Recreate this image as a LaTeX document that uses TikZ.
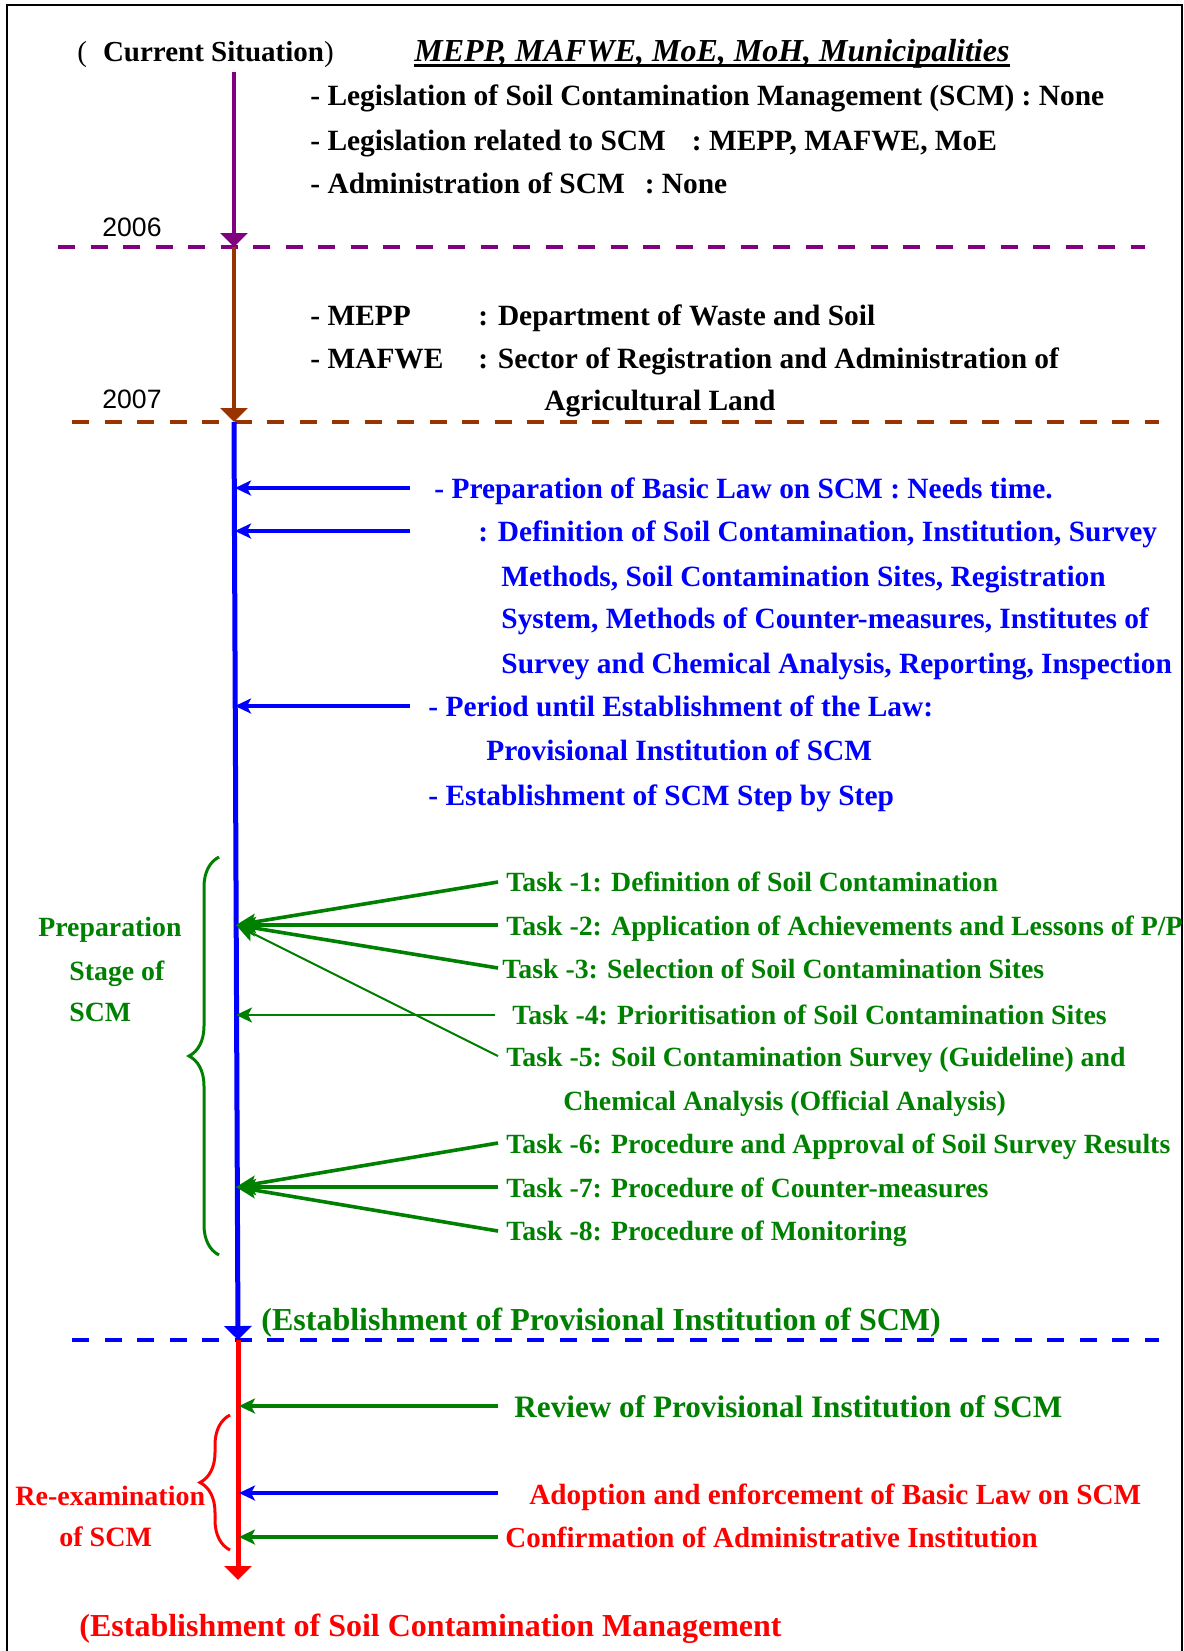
\documentclass[tikz,border=0pt]{standalone}
\usepackage{fontspec}
\setmainfont{Liberation Serif}
\newfontfamily\yearfont{Liberation Sans}
\usepackage{xcolor}
\usetikzlibrary{arrows}
\usetikzlibrary{arrows.meta}
\usetikzlibrary{decorations.pathreplacing}

\definecolor{scmpurple}{RGB}{128,0,128}
\definecolor{scmbrown}{RGB}{153,51,0}
\definecolor{scmgreen}{RGB}{0,128,0}
\definecolor{scmblue}{RGB}{0,0,255}
\definecolor{scmred}{RGB}{255,0,0}

\begin{document}
\begin{tikzpicture}[x=0.5pt,y=-0.5pt]
	\useasboundingbox (0,0) rectangle (1184,1651);
	\draw[line width=1pt] (7,1651) -- (7,5) -- (1182,5) -- (1182,1651);
	
	\tikzstyle{period}=[line width=2.4pt, dash pattern=on 8.5pt off 7.75pt]
	\tikzstyle{spine}=[line width=1.8pt, -{Triangle[width=13.5pt,length=7pt]}]
	\tikzstyle{pointer}=[line width=1.8pt, -{Stealth[length=10pt,width=8pt,inset=2pt]}]
	\tikzstyle{thinpointer}=[line width=1.7pt, -{Stealth[length=8pt,width=7.5pt,inset=2pt]}]
	
	\draw[period, scmpurple] (58,247) -- (1145,247);
	\draw[period, scmbrown] (72,422) -- (1159,422);
	\draw[period, scmblue] (72,1340) -- (1159,1340);
	
	\coordinate (s0) at (234,72);
	\coordinate (s1) at (234,247);
	\coordinate (s2) at (234,422);
	\coordinate (s3) at (238,1340);
	\coordinate (s4) at (238,1580);
	\draw[spine, scmpurple] (s0) to (s1);
	\draw[spine, scmbrown] (s1) to (s2);
	\draw[spine, scmblue, line width=2.5pt] (s2) to (s3);
	\draw[spine, scmred, line width=2.5pt] (s3) to (s4);
	
	\coordinate (h1) at (235,488);
	\coordinate (h2) at (235,531);
	\coordinate (h3) at (235,706);
	\coordinate (hub1) at (236,925);
	\coordinate (hub4) at (236,1015);
	\coordinate (hub2) at (236,1187);
	\coordinate (r1) at (239,1406);
	\coordinate (r2) at (239,1493);
	\coordinate (r3) at (239,1537);
	
	\coordinate (bt1) at (410,488);
	\coordinate (bt2) at (410,531);
	\coordinate (bt3) at (410,706);
	\coordinate (tt1) at (498,882);
	\coordinate (tt2) at (498,925);
	\coordinate (tt3) at (498,968);
	\coordinate (tt4) at (495,1015);
	\coordinate (tt5) at (498,1056);
	\coordinate (tt6) at (498,1143);
	\coordinate (tt7) at (498,1187);
	\coordinate (tt8) at (498,1231);
	\coordinate (rt1) at (498,1406);
	\coordinate (rt2) at (498,1493);
	\coordinate (rt3) at (498,1537);
	
	\draw[scmgreen, line width=1.5pt, decorate, decoration={brace, amplitude=15pt}] (219,1255) -- (219,857);
	\draw[scmred, line width=1.5pt, decorate, decoration={brace, amplitude=15pt}] (230,1550) -- (230,1415);
	
	\tikzstyle{every node}=[anchor=west, inner sep=0pt, text height=0.95em, text depth=0.08em, font=\fontsize{14.7}{17}\selectfont\bfseries]
	\tikzstyle{year}=[font=\fontsize{13.3}{16}\selectfont\yearfont]
	\tikzstyle{bluetext}=[text=scmblue]
	\tikzstyle{task}=[text=scmgreen, font=\fontsize{13.9}{17}\selectfont\bfseries]
	\tikzstyle{big}=[font=\fontsize{16}{19}\selectfont\bfseries]
	
	\node[font=\fontsize{14.5}{17}\selectfont\bfseries] (cur) at (77,53) {{\mdseries(}\hspace{8pt}Current Situation{\mdseries)}};
	\node[font=\fontsize{16}{19}\selectfont\bfseries\itshape] (org) at (414,53) {MEPP, MAFWE, MoE, MoH, Municipalities};
	\draw[line width=1.3pt] ([yshift=-2pt]org.base west) to ([yshift=-2pt]org.base east);
	\node (l1) at (310,97) {- Legislation of Soil Contamination Management (SCM) : None};
	\node (l2) at (310,142) {- Legislation related to SCM\hspace{13pt}: MEPP, MAFWE, MoE};
	\node (l3) at (310,185) {- Administration of SCM\hspace{10pt}: None};
	\node[year] (y06) at (102,228) {2006};
	
	\node (m1) at (310,317) {\makebox[84pt][l]{- MEPP}: Department of Waste and Soil};
	\node (m2) at (310,360) {\makebox[84pt][l]{- MAFWE}: Sector of Registration and Administration of};
	\node (m3) at (544,402) {Agricultural Land};
	\node[year] (y07) at (102,400) {2007};
	
	\node[bluetext] (b1) at (434,490) {- Preparation of Basic Law on SCM : Needs time.};
	\node[bluetext] (b2) at (478,533) {: Definition of Soil Contamination, Institution, Survey};
	\node[bluetext] (b3) at (501,578) {Methods, Soil Contamination Sites, Registration};
	\node[bluetext] (b4) at (501,620) {System, Methods of Counter-measures, Institutes of};
	\node[bluetext] (b5) at (501,665) {Survey and Chemical Analysis, Reporting, Inspection};
	\node[bluetext] (b6) at (428,708) {- Period until Establishment of the Law:};
	\node[bluetext] (b7) at (486,752) {Provisional Institution of SCM};
	\node[bluetext] (b8) at (428,797) {- Establishment of SCM Step by Step};
	\draw[thinpointer, scmblue] (bt1) to (h1);
	\draw[thinpointer, scmblue] (bt2) to (h2);
	\draw[thinpointer, scmblue] (bt3) to (h3);
	
	\node[task] (p1) at (38,928) {Preparation};
	\node[task] (p2) at (69,972) {Stage of};
	\node[task] (p3) at (69,1013) {SCM};
	
	\node[task] (t1) at (506,883) {Task -1: Definition of Soil Contamination};
	\node[task] (t2) at (506,927) {Task -2: Application of Achievements and Lessons of P/P};
	\node[task] (t3) at (502,970) {Task -3: Selection of Soil Contamination Sites};
	\node[task] (t4) at (512,1016) {Task -4: Prioritisation of Soil Contamination Sites};
	\node[task] (t5) at (506,1058) {Task -5: Soil Contamination Survey (Guideline) and};
	\node[task] (t5b) at (563,1102) {Chemical Analysis (Official Analysis)};
	\node[task] (t6) at (506,1145) {Task -6: Procedure and Approval of Soil Survey Results};
	\node[task] (t7) at (506,1189) {Task -7: Procedure of Counter-measures};
	\node[task] (t8) at (506,1232) {Task -8: Procedure of Monitoring};
	\draw[pointer, scmgreen] (tt1) to (hub1);
	\draw[pointer, scmgreen] (tt2) to (hub1);
	\draw[pointer, scmgreen] (tt3) to (hub1);
	\draw[thinpointer, scmgreen, line width=1.3pt] (tt4) to (hub4);
	\draw[pointer, scmgreen, line width=1pt] (tt5) to (hub1);
	\draw[pointer, scmgreen] (tt6) to (hub2);
	\draw[pointer, scmgreen] (tt7) to (hub2);
	\draw[pointer, scmgreen] (tt8) to (hub2);
	
	\node[big, text=scmgreen] (est1) at (261,1322) {(Establishment of Provisional Institution of SCM)};
	
	\node[text=scmgreen, font=\fontsize{15.6}{19}\selectfont\bfseries] (rev) at (514,1409) {Review of Provisional Institution of SCM};
	\node[text=scmred, font=\fontsize{14.6}{17}\selectfont\bfseries] (adopt) at (529,1496) {Adoption and enforcement of Basic Law on SCM};
	\node[text=scmred, font=\fontsize{14.5}{17}\selectfont\bfseries] (conf) at (505,1539) {Confirmation of Administrative Institution};
	\draw[thinpointer, scmgreen] (rt1) to (r1);
	\draw[thinpointer, scmblue] (rt2) to (r2);
	\draw[thinpointer, scmgreen] (rt3) to (r3);
	
	\node[text=scmred, font=\fontsize{14}{17}\selectfont\bfseries] (re1) at (15,1497) {Re-examination};
	\node[text=scmred, font=\fontsize{14}{17}\selectfont\bfseries] (re2) at (59,1538) {of SCM};
	
	\node[big, text=scmred] (est2) at (79,1628) {(Establishment of Soil Contamination Management};
\end{tikzpicture}
\end{document}
